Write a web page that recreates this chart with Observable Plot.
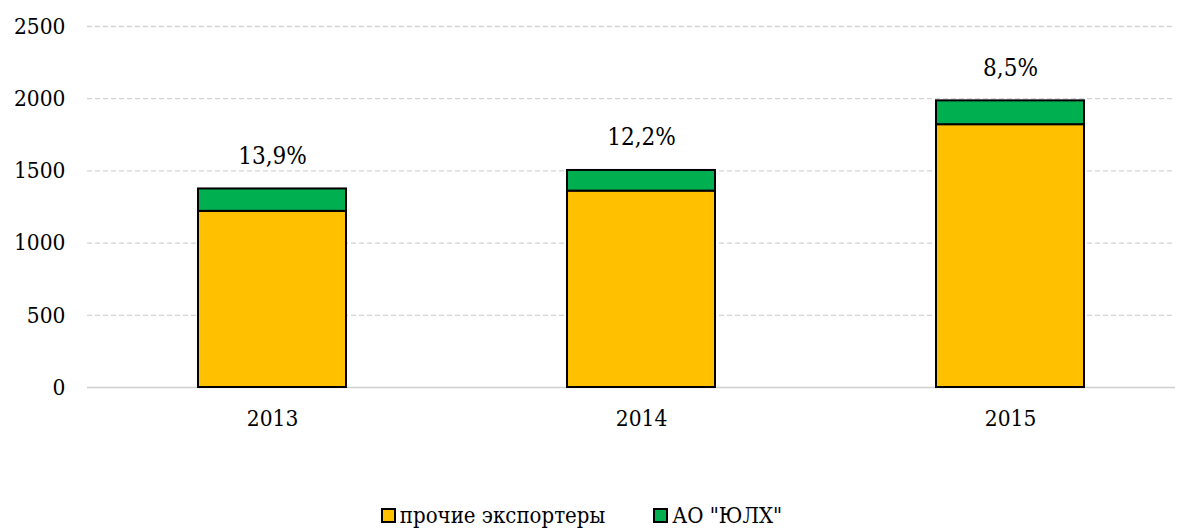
<!DOCTYPE html>
<html>
<head>
<meta charset="utf-8">
<script src="https://cdn.jsdelivr.net/npm/d3@7"></script>
<script src="https://cdn.jsdelivr.net/npm/@observablehq/plot@0.6"></script>
<style>
  html, body { margin: 0; padding: 0; background: #fff; overflow: hidden; }
  #chart { width: 1187px; }
  .legend { display: flex; justify-content: center; gap: 48px; font-family: "DejaVu Serif Condensed", "DejaVu Serif", serif; font-stretch: condensed; font-size: 22px; line-height: 25px; color: #000; margin-top: 53px; padding-right: 24px; }
  .legend span.item { display: flex; align-items: center; }
  .legend span.sw { display: inline-block; width: 11px; height: 11px; border: 2px solid #000; margin-right: 4px; }
</style>
</head>
<body>
<div id="chart"></div>
<script>
const years = ["2013", "2014", "2015"];
const seriesNames = ["прочие экспортеры", "АО \"ЮЛХ\""];
const otherExporters = [1220, 1360, 1820];
const yulh = [155, 143, 165];
const shareLabels = ["13,9%", "12,2%", "8,5%"];
const colors = ["#FFC000", "#00B050"];
const yTicks = [0, 500, 1000, 1500, 2000, 2500];

const rows = [];
years.forEach((y, i) => {
  rows.push({year: y, series: seriesNames[0], value: otherExporters[i]});
  rows.push({year: y, series: seriesNames[1], value: yulh[i]});
});
const totals = years.map((y, i) => ({year: y, total: otherExporters[i] + yulh[i], label: shareLabels[i]}));

const plot = Plot.plot({
  width: 1187,
  height: 450,
  marginLeft: 87,
  marginRight: 12,
  marginTop: 26,
  marginBottom: 63,
  style: {fontFamily: "'DejaVu Serif Condensed', 'DejaVu Serif', serif", fontStretch: "condensed", fontSize: "22.5px", color: "#000", background: "#fff"},
  x: {domain: years, range: [87, 1195.5], paddingInner: 0.6, paddingOuter: 0.3, label: null, tickSize: 0, tickPadding: 23},
  y: {domain: [0, 2500], ticks: yTicks, label: null, tickSize: 0, tickPadding: 22, tickFormat: d => String(d)},
  color: {domain: seriesNames, range: colors},
  marks: [
    Plot.ruleY(yTicks.filter(d => d > 0), {stroke: "#d4d4d4", strokeWidth: 1.3, strokeDasharray: "5,3"}),
    Plot.ruleY([0], {stroke: "#d0d0d0", strokeWidth: 1.5}),
    Plot.barY(rows, Plot.stackY({x: "year", y: "value", fill: "series", stroke: "#000", strokeWidth: 2, order: seriesNames})),
    Plot.text(totals, {x: "year", y: "total", text: "label", dy: -33, fontSize: 24})
  ]
});
document.getElementById("chart").appendChild(plot);

const legend = document.createElement("div");
legend.className = "legend";
seriesNames.forEach((s, i) => {
  const item = document.createElement("span");
  item.className = "item";
  const sw = document.createElement("span");
  sw.className = "sw";
  sw.style.background = colors[i];
  item.appendChild(sw);
  item.appendChild(document.createTextNode(s));
  legend.appendChild(item);
});
document.getElementById("chart").appendChild(legend);
</script>
</body>
</html>
